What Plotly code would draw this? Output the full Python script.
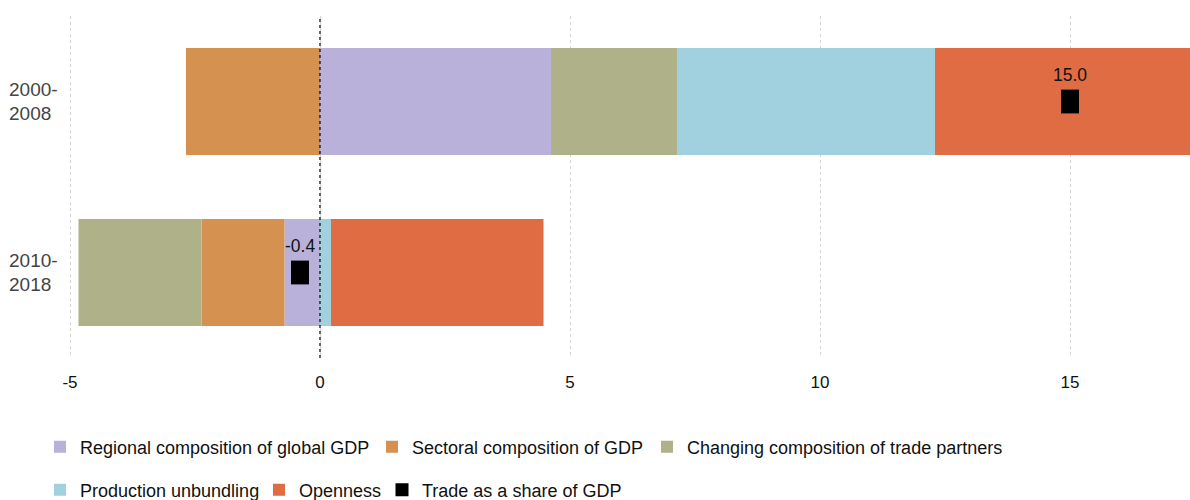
import plotly.graph_objects as go

periods = ["2000-<br>2008", "2010-<br>2018"]
series_names = [
    "Regional composition of global GDP",
    "Sectoral composition of GDP",
    "Changing composition of trade partners",
    "Production unbundling",
    "Openness",
]
regional = [4.62, -0.71]
sectoral = [-2.68, -1.66]
changing = [2.52, -2.46]
production = [5.16, 0.22]
openness = [5.38, 4.25]
trade_share = [15.0, -0.4]
trade_labels = ["15.0", "-0.4"]
x_ticks = [-5, 0, 5, 10, 15]
x_tick_labels = ["-5", "0", "5", "10", "15"]

colors = ["#B9B1D9", "#D4914F", "#AFB288", "#A1D1DE", "#E06C44"]
series_values = [regional, sectoral, changing, production, openness]

FONT = "Liberation Sans, Arial, sans-serif"
W, H = 1190, 500
MT, MB = 16, 142
PH = H - MT - MB

# legend entries placement (pixel text starts, row centres)
legend_text_x = [80, 412, 687, 80, 299, 422]
legend_row_y = [447, 447, 447, 490, 490, 490]

fig = go.Figure()
for i, (name, vals, col) in enumerate(zip(series_names, series_values, colors)):
    fig.add_trace(go.Bar(
        y=periods, x=vals, name=name, orientation="h",
        marker=dict(color=col, line=dict(width=0)),
        legend="legend" if i == 0 else f"legend{i+1}",
    ))

fig.add_trace(go.Scatter(
    y=periods, x=trade_share, mode="markers",
    marker=dict(symbol="line-ns", size=17, color="black",
                line=dict(width=18, color="black")),
    showlegend=False, name="Trade as a share of GDP",
))
for xv, yv, lab in zip(trade_share, periods, trade_labels):
    fig.add_annotation(x=xv, y=yv, text=lab, showarrow=False, yshift=27,
                       font=dict(size=17.5, color="#111111", family=FONT))
fig.add_trace(go.Scatter(
    y=[None], x=[None], mode="markers", name="Trade as a share of GDP",
    marker=dict(symbol="square", size=13, color="black"),
    legend="legend6",
))

fig.add_shape(type="line", x0=0, x1=0, y0=0, y1=1, xref="x", yref="paper",
              line=dict(color="black", width=1.2, dash="dot"))

legends = {}
for i in range(6):
    key = "legend" if i == 0 else f"legend{i+1}"
    legends[key] = dict(
        orientation="h",
        x=(legend_text_x[i] - 40) / W, xanchor="left",
        y=-(legend_row_y[i] - (H - MB)) / PH, yanchor="middle",
        font=dict(size=18, family=FONT, color="#111111"),
        itemwidth=30, bgcolor="rgba(0,0,0,0)",
    )

fig.update_layout(
    width=W, height=H,
    barmode="relative", bargap=0.374,
    plot_bgcolor="white", paper_bgcolor="white",
    margin=dict(l=0, r=0, t=MT, b=MB, autoexpand=False),
    font=dict(family=FONT, size=16, color="#111111"),
    xaxis=dict(range=[-6.4, 17.4], tickvals=x_ticks, ticktext=x_tick_labels,
               showgrid=True, gridcolor="#D5D5D5", griddash="dot", gridwidth=1,
               zeroline=False, showline=False, ticks="",
               tickfont=dict(size=17), ticklabelstandoff=12),
    yaxis=dict(autorange="reversed", showgrid=False, zeroline=False,
               ticklabelposition="inside", ticks="", ticklabelstandoff=6,
               tickfont=dict(size=19)),
    **legends,
)

fig.write_html("out.html", post_script="document.body.style.margin='0px';",
               config={"displayModeBar": False})
